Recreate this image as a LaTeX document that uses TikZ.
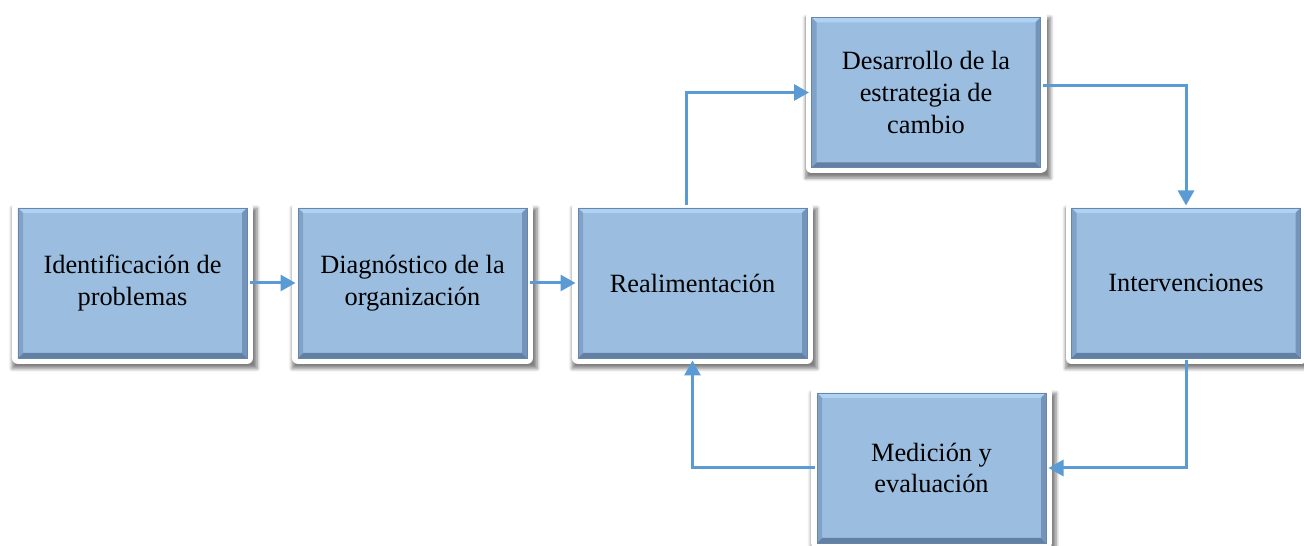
\documentclass[tikz,border=0pt]{standalone}
\usepackage{fontspec}
\setmainfont{Liberation Serif}
\usepackage{tikz}
\usetikzlibrary{arrows.meta, positioning, calc, shadows.blur}
\usepackage{xcolor}
\definecolor{stagefill}{RGB}{155,190,224}
\definecolor{stageedge}{RGB}{104,134,170}
\definecolor{bevtop}{RGB}{176,210,242}
\definecolor{bevbot}{RGB}{98,128,164}
\definecolor{bevleft}{RGB}{128,162,200}
\definecolor{bevright}{RGB}{116,148,186}
\definecolor{linkblue}{RGB}{91,155,213}

\begin{document}
\begin{tikzpicture}[
    stage/.style={minimum width=4.58cm, minimum height=3cm, inner sep=0pt,
        outer sep=0.05cm, fill=stagefill, draw=stageedge, line width=0.4pt,
        align=center, font=\fontsize{15}{18}\selectfont,
        blur shadow={shadow xshift=0.04cm, shadow yshift=-0.1cm,
            shadow scale=1.07, shadow opacity=50, shadow blur steps=6},
        preaction={draw=white, line width=0.24cm, line join=round},
        path picture={
            \coordinate (nw) at (path picture bounding box.north west);
            \coordinate (ne) at (path picture bounding box.north east);
            \coordinate (sw) at (path picture bounding box.south west);
            \coordinate (se) at (path picture bounding box.south east);
            \fill[bevtop] (nw) -- (ne) -- ++(-0.1,-0.1) -- ($(nw)+(0.1,-0.1)$) -- cycle;
            \fill[bevbot] (sw) -- (se) -- ++(-0.1,0.1) -- ($(sw)+(0.1,0.1)$) -- cycle;
            \fill[bevleft] (nw) -- (sw) -- ++(0.1,0.1) -- ($(nw)+(0.1,-0.1)$) -- cycle;
            \fill[bevright] (ne) -- (se) -- ++(-0.1,0.1) -- ($(ne)+(-0.1,-0.1)$) -- cycle;
        }},
    link/.style={draw=linkblue, line width=0.06cm,
        -{Triangle[length=0.3cm, width=0.32cm]}}
]
    \useasboundingbox (0,0) rectangle (26.08,10.92);
    \clip (0,0) rectangle (26.08,10.92);

    % cajas
    \node[stage] (ident) at (2.65, 5.26) {Identificación de\\problemas};
    \node[stage] (diag) at (8.25, 5.26) {Diagnóstico de la\\organización};
    \node[stage] (real) at (13.85, 5.26) {Realimentación};
    \node[stage] (desa) at (18.52, 9.07) {Desarrollo de la\\estrategia de\\cambio};
    \node[stage] (inter) at (23.72, 5.26) {Intervenciones};
    \node[stage] (medi) at (18.63, 1.56) {Medición y\\evaluación};

    % flechas
    \draw[link] (ident) -- (diag);
    \draw[link] (diag) -- (real);
    \draw[link] ([xshift=-0.13cm]real.north) |- (desa.west);
    \draw[link] ([yshift=0.13cm]desa.east) -| (inter.north);
    \draw[link] (inter.south) |- (medi.east);
    \draw[link] (medi.west) -| (real.south);
\end{tikzpicture}
\end{document}
